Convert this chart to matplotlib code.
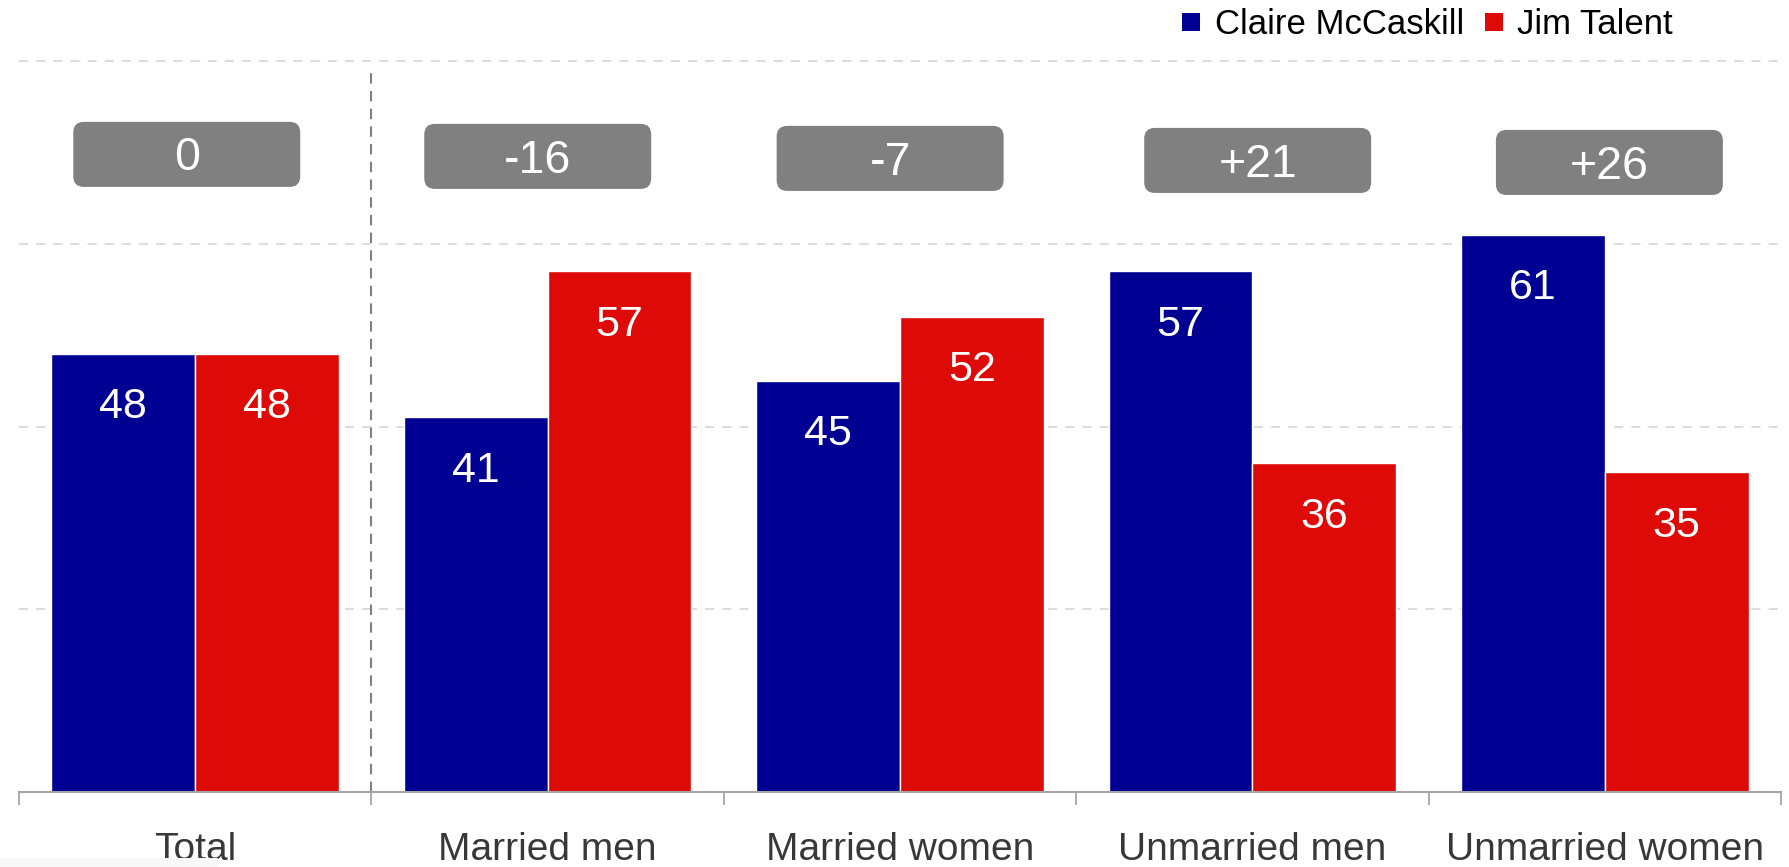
import matplotlib
matplotlib.use("Agg")
import matplotlib.pyplot as plt
from matplotlib.patches import FancyBboxPatch, Rectangle
from matplotlib.lines import Line2D
import numpy as np

plt.rcParams['font.family'] = ['Liberation Sans', 'DejaVu Sans']

categories = ["Total", "Married men", "Married women", "Unmarried men", "Unmarried women"]
mccaskill = [48, 41, 45, 57, 61]
talent = [48, 57, 52, 36, 35]
series_names = ["Claire McCaskill", "Jim Talent"]
colors = ["#000092", "#DE0A07"]

W, H = 1790, 867
fig = plt.figure(figsize=(W / 100, H / 100), dpi=100)
ax = fig.add_axes([19 / W, 1 - 792 / H, (1781 - 19) / W, 792 / H])

x = np.arange(len(categories))
bw = 0.408
b1 = ax.bar(x - bw / 2, mccaskill, bw, color=colors[0], edgecolor="white", linewidth=1.0,
            label=series_names[0], zorder=3)
b2 = ax.bar(x + bw / 2, talent, bw, color=colors[1], edgecolor="white", linewidth=1.0,
            label=series_names[1], zorder=3)

for bars, vals in ((b1, mccaskill), (b2, talent)):
    for r, v in zip(bars, vals):
        ax.annotate(str(v), (r.get_x() + r.get_width() / 2, v), xytext=(0, -38.5),
                    textcoords="offset points", ha="center", va="center",
                    color="white", fontsize=31, zorder=4)

ax.set_xlim(-0.5, len(categories) - 0.5)
ax.set_ylim(0, 86.7)

# gridlines
ax.set_yticks([20, 40, 60, 80])
ax.yaxis.grid(True, color="#d9d9d9", linestyle=(0, (5, 4.5)), linewidth=1.3, zorder=0)
ax.tick_params(axis="y", left=False, labelleft=False)

# x ticks at boundaries, labels at centers
ax.set_xticks(np.arange(-0.5, len(categories)), minor=False)
ax.set_xticklabels([])
ax.tick_params(axis="x", which="major", direction="out", length=9, width=1.3, color="#a6a6a6")
ax.set_xticks(x, minor=True)
ax.set_xticklabels(categories, minor=True, fontsize=28, color="#383838")
ax.tick_params(axis="x", which="minor", length=0, pad=29)

for s in ("top", "right", "left"):
    ax.spines[s].set_visible(False)
ax.spines["bottom"].set_color("#a6a6a6")
ax.spines["bottom"].set_linewidth(1.5)
ax.spines["bottom"].set_zorder(5)

# divider between Total and subgroups
ax.plot([0.5, 0.5], [0, 79.4], color="#808080", linestyle=(0, (5, 3.5)), linewidth=1.5,
        zorder=2, clip_on=False)

# difference boxes
diffs = [a - b for a, b in zip(mccaskill, talent)]
box_w, box_h = 0.644, 7.12
box_dx = [-0.024, -0.028, -0.028, 0.015, 0.013]
box_y0, box_dy = 69.8, -0.22
px_per_x = (1781 - 19) / len(categories)
px_per_y = 792 / 86.7
for i, (xi, d) in enumerate(zip(x, diffs)):
    lab = "0" if d == 0 else f"{d:+d}"
    cx = xi + box_dx[i]
    cy = box_y0 + box_dy * i
    p = FancyBboxPatch((cx - box_w / 2, cy - box_h / 2), box_w, box_h,
                       boxstyle="round,pad=0,rounding_size=0.03",
                       mutation_aspect=px_per_x / px_per_y,
                       facecolor="#808080", edgecolor="none", zorder=4)
    ax.add_patch(p)
    ax.text(cx, cy - 0.45, lab, ha="center", va="center", color="white", fontsize=33.5, zorder=5)

handles = [Line2D([], [], marker="s", linestyle="none", markersize=13, color=c,
                  markeredgewidth=0) for c in colors]
leg = ax.legend(handles, series_names, loc="center right", bbox_to_anchor=(1673 / W, 1 - 25 / H),
                bbox_transform=fig.transFigure,
                ncol=2, frameon=False, fontsize=25, handlelength=0.52,
                handletextpad=0.42, columnspacing=0.6, borderaxespad=0, borderpad=0)

# faint light band at the bottom-left corner
fig.add_artist(Rectangle((0, 0), 218 / W, 9 / H, transform=fig.transFigure,
                         facecolor="#f8f8f8", edgecolor="none", zorder=10))

fig.savefig("out.png", dpi=100)
